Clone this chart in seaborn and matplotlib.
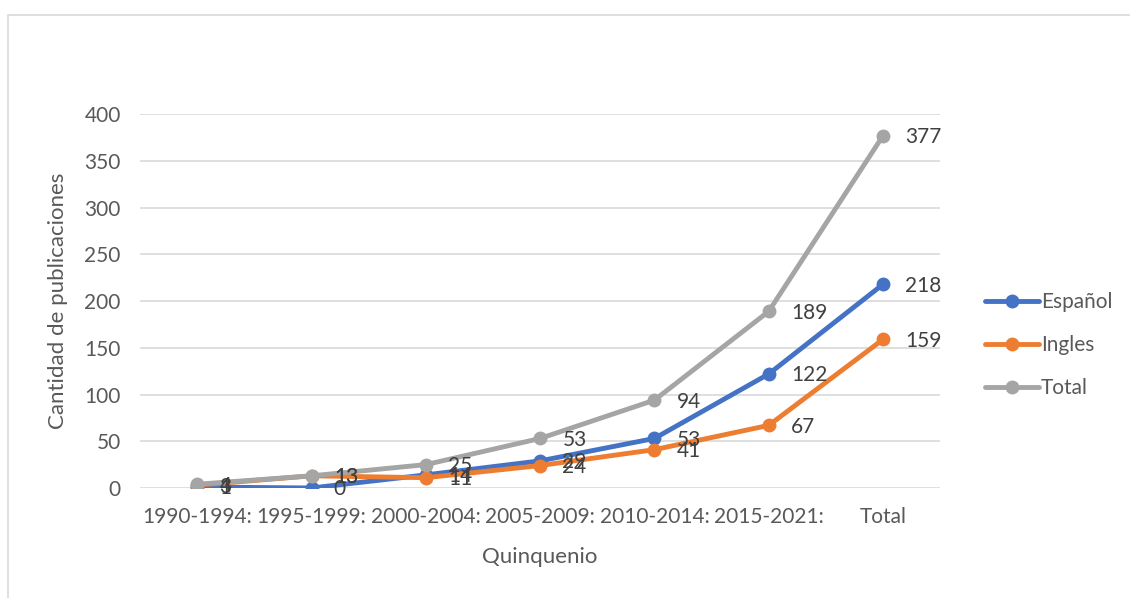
import numpy as np
import pandas as pd
import seaborn as sns
import matplotlib.pyplot as plt
from matplotlib.patches import Rectangle

periodos = ["1990-1994:", "1995-1999:", "2000-2004:", "2005-2009:",
            "2010-2014:", "2015-2021:", "Total"]
espanol = [1, 0, 14, 29, 53, 122, 218]
ingles = [3, 13, 11, 24, 41, 67, 159]
total = [4, 13, 25, 53, 94, 189, 377]

series = {"Español": espanol, "Ingles": ingles, "Total": total}
colores = {"Español": "#4472C4", "Ingles": "#ED7D31", "Total": "#A5A5A5"}

df = pd.DataFrame([(p, nombre, v) for nombre, vals in series.items()
                   for p, v in zip(periodos, vals)],
                  columns=["Quinquenio", "Serie", "Valor"])

sns.set_style("white")
plt.rcParams['font.family'] = ['Lato', 'DejaVu Sans']
gris = "#595959"

fig = plt.figure(figsize=(11.3, 5.98), dpi=100)
ax = fig.add_axes([0.124, 0.184, 0.708, 0.625])

# marco del grafico
fig.patches.append(Rectangle((0.007, -0.01), 1.0, 0.985, transform=fig.transFigure,
                             fill=False, edgecolor="#d9d9d9", lw=1.2))

sns.lineplot(data=df, x="Quinquenio", y="Valor", hue="Serie", palette=colores,
             marker="o", markersize=10, markeredgewidth=0, linewidth=3.5,
             sort=False, ax=ax, legend=False)

for nombre, vals in series.items():
    for i, v in enumerate(vals):
        ax.annotate(str(v), (i, v), xytext=(16, -1), textcoords="offset points",
                    va="center", ha="left", fontsize=15, color="#404040")

ax.set_ylim(0, 400)
ax.set_xlim(-0.5, len(periodos) - 0.5)
ax.set_yticks(np.arange(0, 401, 50))
ax.yaxis.grid(True, color="#d9d9d9", lw=1.2)
ax.set_axisbelow(True)
for s in ax.spines.values():
    s.set_visible(False)
ax.tick_params(axis="both", length=0, labelsize=15, labelcolor=gris)
ax.tick_params(axis="x", pad=14)
ax.tick_params(axis="y", pad=14)
ax.set_xlabel("Quinquenio", fontsize=16, color=gris, labelpad=14)
ax.set_ylabel("Cantidad de publicaciones", fontsize=16, color=gris, labelpad=12)

handles = [plt.Line2D([], [], color=c, lw=3.5, marker="o", markersize=10,
                      markeredgewidth=0) for c in colores.values()]
fig.legend(handles, list(colores.keys()), loc="center left",
           bbox_to_anchor=(0.855, 0.423), frameon=False, fontsize=15,
           labelcolor=gris, handlelength=2.6, handletextpad=0.1, labelspacing=1.1)

fig.savefig("out.png", dpi=100)
